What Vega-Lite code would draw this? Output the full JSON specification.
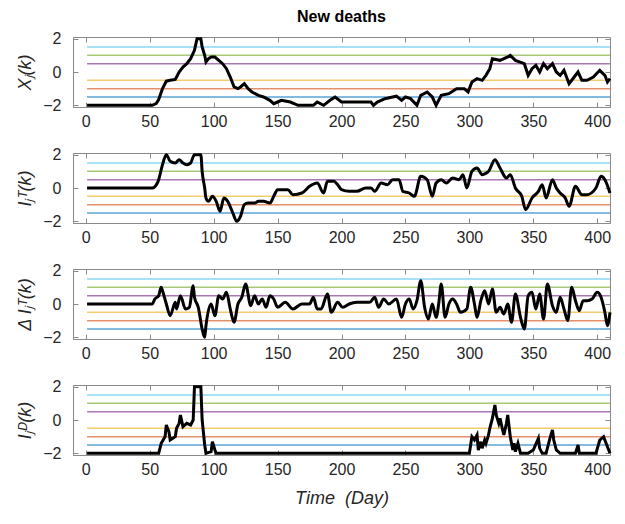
{
  "$schema": "https://vega.github.io/schema/vega-lite/v6.json",
  "background": "white",
  "padding": {"left": 16, "top": 8, "right": 5, "bottom": 5},
  "config": {
    "font": "Liberation Sans",
    "view": {"stroke": "#8a8a8a", "strokeWidth": 1},
    "axis": {
      "labelFont": "Liberation Sans",
      "titleFont": "Liberation Sans",
      "labelFontSize": 16,
      "labelColor": "#262626",
      "titleColor": "#262626",
      "grid": false,
      "domainColor": "#8a8a8a",
      "tickColor": "#8a8a8a",
      "tickSize": -5,
      "labelOverlap": false,
      "labelFlush": false
    },
    "concat": {"spacing": 46}
  },
  "datasets": {
    "levels": [
      {"lvl": 1.5, "d0": 1, "d1": 410},
      {"lvl": 1.0, "d0": 1, "d1": 410},
      {"lvl": 0.5, "d0": 1, "d1": 410},
      {"lvl": -0.5, "d0": 1, "d1": 410},
      {"lvl": -1.0, "d0": 1, "d1": 410},
      {"lvl": -1.5, "d0": 1, "d1": 410}
    ],
    "xj": [
      {"d":1,"v":-2},{"d":52,"v":-2},{"d":55,"v":-1.9},{"d":57,"v":-1.65},{"d":60,"v":-1.0},{"d":63,"v":-0.55},{"d":66,"v":-0.5},{"d":70,"v":-0.45},{"d":73,"v":0},{"d":76,"v":0.3},{"d":79,"v":0.5},{"d":82,"v":0.8},{"d":85,"v":1.3},{"d":87,"v":2.0},{"d":90,"v":2.0},{"d":91,"v":1.5},{"d":93,"v":1.0},{"d":94,"v":0.6},{"d":96,"v":0.8},{"d":98,"v":0.9},{"d":101,"v":0.9},{"d":104,"v":0.7},{"d":107,"v":0.5},{"d":110,"v":0.2},{"d":113,"v":-0.3},{"d":116,"v":-0.9},{"d":119,"v":-1.0},{"d":121,"v":-0.9},{"d":124,"v":-0.7},{"d":127,"v":-1.0},{"d":130,"v":-1.2},{"d":135,"v":-1.4},{"d":139,"v":-1.5},{"d":144,"v":-1.7},{"d":147,"v":-1.9},{"d":150,"v":-1.8},{"d":153,"v":-1.7},{"d":160,"v":-1.8},{"d":166,"v":-2.0},{"d":178,"v":-2.0},{"d":181,"v":-1.8},{"d":186,"v":-2.0},{"d":191,"v":-1.7},{"d":195,"v":-1.5},{"d":200,"v":-1.8},{"d":212,"v":-1.8},{"d":223,"v":-1.8},{"d":225,"v":-2.0},{"d":228,"v":-1.8},{"d":234,"v":-1.6},{"d":240,"v":-1.5},{"d":243,"v":-1.45},{"d":247,"v":-1.7},{"d":250,"v":-1.5},{"d":254,"v":-1.6},{"d":259,"v":-2.0},{"d":262,"v":-1.4},{"d":267,"v":-1.2},{"d":271,"v":-1.5},{"d":274,"v":-2.0},{"d":278,"v":-1.4},{"d":284,"v":-1.3},{"d":290,"v":-1.0},{"d":296,"v":-1.0},{"d":299,"v":-1.2},{"d":302,"v":-0.6},{"d":306,"v":-0.4},{"d":310,"v":-0.5},{"d":313,"v":-0.2},{"d":316,"v":0.2},{"d":318,"v":0.8},{"d":324,"v":0.7},{"d":330,"v":0.9},{"d":332,"v":1.0},{"d":336,"v":0.7},{"d":343,"v":0.5},{"d":346,"v":-0.2},{"d":349,"v":0.2},{"d":352,"v":0.4},{"d":355,"v":0.0},{"d":358,"v":0.5},{"d":361,"v":0.2},{"d":365,"v":0.5},{"d":368,"v":0.0},{"d":371,"v":-0.2},{"d":374,"v":0.1},{"d":378,"v":-0.7},{"d":382,"v":-0.3},{"d":385,"v":0.0},{"d":388,"v":-0.5},{"d":392,"v":-0.5},{"d":397,"v":-0.3},{"d":402,"v":0.1},{"d":406,"v":-0.2},{"d":408,"v":-0.6},{"d":410,"v":-0.4}
    ],
    "it": [
      {"d":1,"v":0},{"d":52,"v":0},{"d":56,"v":0.3},{"d":57,"v":0.5},{"d":60,"v":1.4},{"d":63,"v":2.0},{"d":66,"v":1.6},{"d":70,"v":1.5},{"d":73,"v":1.7},{"d":76,"v":1.5},{"d":79,"v":1.4},{"d":82,"v":1.5},{"d":85,"v":2.0},{"d":90,"v":2.0},{"d":91,"v":1.0},{"d":93,"v":0.0},{"d":94,"v":-0.6},{"d":96,"v":-0.8},{"d":99,"v":-0.5},{"d":102,"v":-0.8},{"d":105,"v":-1.4},{"d":108,"v":-0.6},{"d":111,"v":-0.8},{"d":115,"v":-1.5},{"d":118,"v":-2.0},{"d":121,"v":-1.7},{"d":124,"v":-1.0},{"d":127,"v":-0.9},{"d":132,"v":-0.9},{"d":135,"v":-0.8},{"d":139,"v":-0.8},{"d":144,"v":-0.9},{"d":147,"v":-0.5},{"d":150,"v":-0.1},{"d":153,"v":-0.1},{"d":158,"v":-0.1},{"d":162,"v":-0.4},{"d":169,"v":-0.3},{"d":175,"v":0.1},{"d":181,"v":0.3},{"d":186,"v":-0.3},{"d":189,"v":0.4},{"d":194,"v":0.4},{"d":197,"v":0.2},{"d":200,"v":-0.1},{"d":206,"v":-0.2},{"d":212,"v":-0.2},{"d":219,"v":0},{"d":223,"v":0},{"d":226,"v":-0.2},{"d":231,"v":0.3},{"d":236,"v":0.2},{"d":240,"v":0.5},{"d":245,"v":0.5},{"d":248,"v":-0.2},{"d":253,"v":-0.3},{"d":257,"v":-0.5},{"d":262,"v":0.7},{"d":267,"v":0.5},{"d":271,"v":-0.5},{"d":274,"v":0.3},{"d":278,"v":0.5},{"d":282,"v":0.3},{"d":287,"v":0.6},{"d":292,"v":0.5},{"d":295,"v":0.8},{"d":298,"v":0.0},{"d":302,"v":1.0},{"d":306,"v":1.2},{"d":310,"v":0.8},{"d":315,"v":1.0},{"d":320,"v":1.7},{"d":324,"v":1.2},{"d":329,"v":0.6},{"d":332,"v":0.8},{"d":336,"v":0.0},{"d":341,"v":-0.5},{"d":344,"v":-1.3},{"d":349,"v":-0.6},{"d":354,"v":-0.2},{"d":357,"v":0.2},{"d":360,"v":-0.6},{"d":365,"v":0.5},{"d":368,"v":0.0},{"d":371,"v":-0.3},{"d":375,"v":-0.6},{"d":378,"v":-1.1},{"d":383,"v":0.1},{"d":388,"v":-0.4},{"d":392,"v":-0.4},{"d":399,"v":0.0},{"d":403,"v":0.7},{"d":406,"v":0.5},{"d":410,"v":-0.3}
    ],
    "dit": [
      {"d":1,"v":0},{"d":52,"v":0},{"d":54,"v":0.3},{"d":57,"v":0.5},{"d":59,"v":1.0},{"d":60,"v":0.8},{"d":63,"v":0.0},{"d":66,"v":-0.7},{"d":70,"v":0.1},{"d":71,"v":-0.3},{"d":74,"v":0.5},{"d":78,"v":-0.3},{"d":81,"v":-0.2},{"d":84,"v":1.1},{"d":85,"v":0.4},{"d":88,"v":-0.2},{"d":91,"v":-1.5},{"d":93,"v":-2.0},{"d":94,"v":-1.3},{"d":98,"v":0.0},{"d":101,"v":-0.7},{"d":104,"v":0.5},{"d":107,"v":0.3},{"d":110,"v":0.7},{"d":113,"v":-0.3},{"d":116,"v":-1.1},{"d":119,"v":0.0},{"d":122,"v":0.4},{"d":125,"v":1.2},{"d":129,"v":-0.1},{"d":132,"v":0.5},{"d":135,"v":0.0},{"d":138,"v":0.3},{"d":141,"v":-0.2},{"d":144,"v":0.5},{"d":147,"v":0.3},{"d":150,"v":-0.2},{"d":156,"v":0.1},{"d":162,"v":-0.3},{"d":169,"v":0.0},{"d":175,"v":0.0},{"d":178,"v":0.4},{"d":181,"v":-0.3},{"d":184,"v":-0.3},{"d":189,"v":0.6},{"d":192,"v":-0.5},{"d":197,"v":0.1},{"d":201,"v":-0.2},{"d":206,"v":0.0},{"d":212,"v":0.1},{"d":222,"v":0.1},{"d":226,"v":0.4},{"d":229,"v":-0.2},{"d":233,"v":0.3},{"d":237,"v":0.0},{"d":243,"v":0.3},{"d":247,"v":-0.8},{"d":250,"v":0.0},{"d":253,"v":0.3},{"d":256,"v":-0.3},{"d":259,"v":0.2},{"d":262,"v":1.4},{"d":265,"v":-0.2},{"d":268,"v":-0.9},{"d":271,"v":0.0},{"d":274,"v":-0.8},{"d":276,"v":0.0},{"d":278,"v":1.2},{"d":281,"v":-0.8},{"d":284,"v":0.0},{"d":287,"v":0.3},{"d":290,"v":0.0},{"d":293,"v":-0.5},{"d":298,"v":-0.3},{"d":301,"v":1.0},{"d":304,"v":0.0},{"d":306,"v":-0.8},{"d":309,"v":0.2},{"d":312,"v":0.8},{"d":315,"v":0.0},{"d":318,"v":0.9},{"d":321,"v":-0.5},{"d":324,"v":-0.2},{"d":327,"v":-0.6},{"d":330,"v":0.0},{"d":333,"v":-1.1},{"d":336,"v":0.6},{"d":340,"v":-0.8},{"d":343,"v":-1.5},{"d":346,"v":0.5},{"d":349,"v":0.7},{"d":352,"v":-0.3},{"d":355,"v":0.6},{"d":358,"v":-0.9},{"d":361,"v":1.2},{"d":365,"v":-0.1},{"d":368,"v":-0.5},{"d":371,"v":0.4},{"d":374,"v":-0.3},{"d":377,"v":-1.0},{"d":380,"v":1.0},{"d":383,"v":0.2},{"d":386,"v":-0.4},{"d":389,"v":0.2},{"d":392,"v":0.2},{"d":396,"v":0.3},{"d":400,"v":0.7},{"d":403,"v":0.4},{"d":406,"v":-0.5},{"d":408,"v":-1.3},{"d":410,"v":-0.5}
    ],
    "idd": [
      {"d":1,"v":-2},{"d":57,"v":-2},{"d":59,"v":-1.4},{"d":62,"v":-1.0},{"d":63,"v":-0.3},{"d":65,"v":-0.7},{"d":66,"v":-1.2},{"d":70,"v":-1.0},{"d":71,"v":-0.5},{"d":73,"v":-0.2},{"d":74,"v":0.3},{"d":76,"v":-0.4},{"d":79,"v":-0.2},{"d":82,"v":-0.3},{"d":84,"v":0.0},{"d":85,"v":2.0},{"d":90,"v":2.0},{"d":91,"v":0.0},{"d":93,"v":-1.5},{"d":94,"v":-2.0},{"d":98,"v":-1.9},{"d":99,"v":-1.3},{"d":101,"v":-1.8},{"d":102,"v":-2.0},{"d":300,"v":-2.0},{"d":301,"v":-1.5},{"d":302,"v":-1.0},{"d":304,"v":-1.2},{"d":306,"v":-0.9},{"d":307,"v":-1.8},{"d":309,"v":-1.3},{"d":310,"v":-1.7},{"d":312,"v":-1.2},{"d":313,"v":-1.4},{"d":315,"v":-0.9},{"d":316,"v":-0.5},{"d":318,"v":0.1},{"d":320,"v":0.9},{"d":321,"v":0.3},{"d":323,"v":-0.2},{"d":324,"v":0.1},{"d":326,"v":-0.6},{"d":327,"v":-0.9},{"d":329,"v":-0.2},{"d":330,"v":0.3},{"d":332,"v":-1.0},{"d":334,"v":-1.8},{"d":335,"v":-1.4},{"d":336,"v":-1.9},{"d":338,"v":-1.4},{"d":340,"v":-2.0},{"d":346,"v":-2.0},{"d":350,"v":-1.8},{"d":354,"v":-1.1},{"d":355,"v":-1.7},{"d":357,"v":-2.0},{"d":360,"v":-2.0},{"d":363,"v":-1.1},{"d":365,"v":-0.6},{"d":366,"v":-1.2},{"d":368,"v":-1.8},{"d":371,"v":-2.0},{"d":383,"v":-2.0},{"d":385,"v":-1.5},{"d":386,"v":-2.0},{"d":399,"v":-2.0},{"d":402,"v":-1.2},{"d":405,"v":-1.0},{"d":408,"v":-1.6},{"d":410,"v":-2.0}
    ]
  },
  "vconcat": [
    {
      "title": {"text": "New deaths", "fontSize": 16, "fontWeight": "bold", "color": "#000000", "anchor": "middle", "offset": 6},
      "width": 537, "height": 70,
      "resolve": {"axis": {"x": "independent", "y": "independent"}},
      "layer": [
        {
          "data": {"name": "levels"},
          "mark": {"type": "rule", "strokeWidth": 1.5, "opacity": 0.65},
          "encoding": {
            "x": {"field": "d0", "type": "quantitative", "scale": {"domain": [-10, 410], "nice": false, "zero": false}, "axis": {"values": [0,50,100,150,200,250,300,350,400], "title": null, "labelPadding": 11}},
            "x2": {"field": "d1"},
            "y": {"field": "lvl", "type": "quantitative", "scale": {"domain": [-2.1, 2.1], "nice": false}, "axis": {"values": [-2,0,2], "title": "Xⱼ(k)", "titleFontStyle": "italic", "titleFontWeight": "normal", "titleFontSize": 18, "labelPadding": 17, "titlePadding": 8}},
            "color": {"field": "lvl", "type": "nominal", "legend": null, "scale": {"domain": [1.5, 1.0, 0.5, -0.5, -1.0, -1.5], "range": ["#4DBEEE", "#77AC30", "#7E2F8E", "#EDB120", "#D95319", "#0072BD"]}}
          }
        },
        {
          "data": {"name": "xj"},
          "mark": {"type": "line", "color": "#000000", "strokeWidth": 3},
          "encoding": {
            "x": {"field": "d", "type": "quantitative", "axis": {"orient": "top", "labels": false, "domain": false, "title": null, "values": [0,50,100,150,200,250,300,350,400]}},
            "y": {"field": "v", "type": "quantitative", "axis": {"orient": "right", "labels": false, "domain": false, "title": null, "values": [-2,0,2]}}
          }
        }
      ]
    },
    {
      "width": 537, "height": 70,
      "resolve": {"axis": {"x": "independent", "y": "independent"}},
      "layer": [
        {
          "data": {"name": "levels"},
          "mark": {"type": "rule", "strokeWidth": 1.5, "opacity": 0.65},
          "encoding": {
            "x": {"field": "d0", "type": "quantitative", "scale": {"domain": [-10, 410], "nice": false, "zero": false}, "axis": {"values": [0,50,100,150,200,250,300,350,400], "title": null, "labelPadding": 11}},
            "x2": {"field": "d1"},
            "y": {"field": "lvl", "type": "quantitative", "scale": {"domain": [-2.1, 2.1], "nice": false}, "axis": {"values": [-2,0,2], "title": "Iⱼᵀ(k)", "titleFontStyle": "italic", "titleFontWeight": "normal", "titleFontSize": 18, "labelPadding": 17, "titlePadding": 8}},
            "color": {"field": "lvl", "type": "nominal", "legend": null, "scale": {"domain": [1.5, 1.0, 0.5, -0.5, -1.0, -1.5], "range": ["#4DBEEE", "#77AC30", "#7E2F8E", "#EDB120", "#D95319", "#0072BD"]}}
          }
        },
        {
          "data": {"name": "it"},
          "mark": {"type": "line", "color": "#000000", "strokeWidth": 3, "interpolate": "monotone"},
          "encoding": {
            "x": {"field": "d", "type": "quantitative", "axis": {"orient": "top", "labels": false, "domain": false, "title": null, "values": [0,50,100,150,200,250,300,350,400]}},
            "y": {"field": "v", "type": "quantitative", "axis": {"orient": "right", "labels": false, "domain": false, "title": null, "values": [-2,0,2]}}
          }
        }
      ]
    },
    {
      "width": 537, "height": 70,
      "resolve": {"axis": {"x": "independent", "y": "independent"}},
      "layer": [
        {
          "data": {"name": "levels"},
          "mark": {"type": "rule", "strokeWidth": 1.5, "opacity": 0.65},
          "encoding": {
            "x": {"field": "d0", "type": "quantitative", "scale": {"domain": [-10, 410], "nice": false, "zero": false}, "axis": {"values": [0,50,100,150,200,250,300,350,400], "title": null, "labelPadding": 11}},
            "x2": {"field": "d1"},
            "y": {"field": "lvl", "type": "quantitative", "scale": {"domain": [-2.1, 2.1], "nice": false}, "axis": {"values": [-2,0,2], "title": "Δ Iⱼᵀ(k)", "titleFontStyle": "italic", "titleFontWeight": "normal", "titleFontSize": 18, "labelPadding": 17, "titlePadding": 8}},
            "color": {"field": "lvl", "type": "nominal", "legend": null, "scale": {"domain": [1.5, 1.0, 0.5, -0.5, -1.0, -1.5], "range": ["#4DBEEE", "#77AC30", "#7E2F8E", "#EDB120", "#D95319", "#0072BD"]}}
          }
        },
        {
          "data": {"name": "dit"},
          "mark": {"type": "line", "color": "#000000", "strokeWidth": 3, "interpolate": "monotone"},
          "encoding": {
            "x": {"field": "d", "type": "quantitative", "axis": {"orient": "top", "labels": false, "domain": false, "title": null, "values": [0,50,100,150,200,250,300,350,400]}},
            "y": {"field": "v", "type": "quantitative", "axis": {"orient": "right", "labels": false, "domain": false, "title": null, "values": [-2,0,2]}}
          }
        }
      ]
    },
    {
      "width": 537, "height": 70,
      "resolve": {"axis": {"x": "independent", "y": "independent"}},
      "layer": [
        {
          "data": {"name": "levels"},
          "mark": {"type": "rule", "strokeWidth": 1.5, "opacity": 0.65},
          "encoding": {
            "x": {"field": "d0", "type": "quantitative", "scale": {"domain": [-10, 410], "nice": false, "zero": false}, "axis": {"values": [0,50,100,150,200,250,300,350,400], "title": "Time\u00a0\u00a0(Day)", "titleFontStyle": "italic", "titleFontWeight": "normal", "titleFontSize": 18, "labelPadding": 11, "titlePadding": 12}},
            "x2": {"field": "d1"},
            "y": {"field": "lvl", "type": "quantitative", "scale": {"domain": [-2.1, 2.1], "nice": false}, "axis": {"values": [-2,0,2], "title": "Iⱼᴰ(k)", "titleFontStyle": "italic", "titleFontWeight": "normal", "titleFontSize": 18, "labelPadding": 17, "titlePadding": 8}},
            "color": {"field": "lvl", "type": "nominal", "legend": null, "scale": {"domain": [1.5, 1.0, 0.5, -0.5, -1.0, -1.5], "range": ["#4DBEEE", "#77AC30", "#7E2F8E", "#EDB120", "#D95319", "#0072BD"]}}
          }
        },
        {
          "data": {"name": "idd"},
          "mark": {"type": "line", "color": "#000000", "strokeWidth": 3},
          "encoding": {
            "x": {"field": "d", "type": "quantitative", "axis": {"orient": "top", "labels": false, "domain": false, "title": null, "values": [0,50,100,150,200,250,300,350,400]}},
            "y": {"field": "v", "type": "quantitative", "axis": {"orient": "right", "labels": false, "domain": false, "title": null, "values": [-2,0,2]}}
          }
        }
      ]
    }
  ],
  "bounds": "flush"
}
